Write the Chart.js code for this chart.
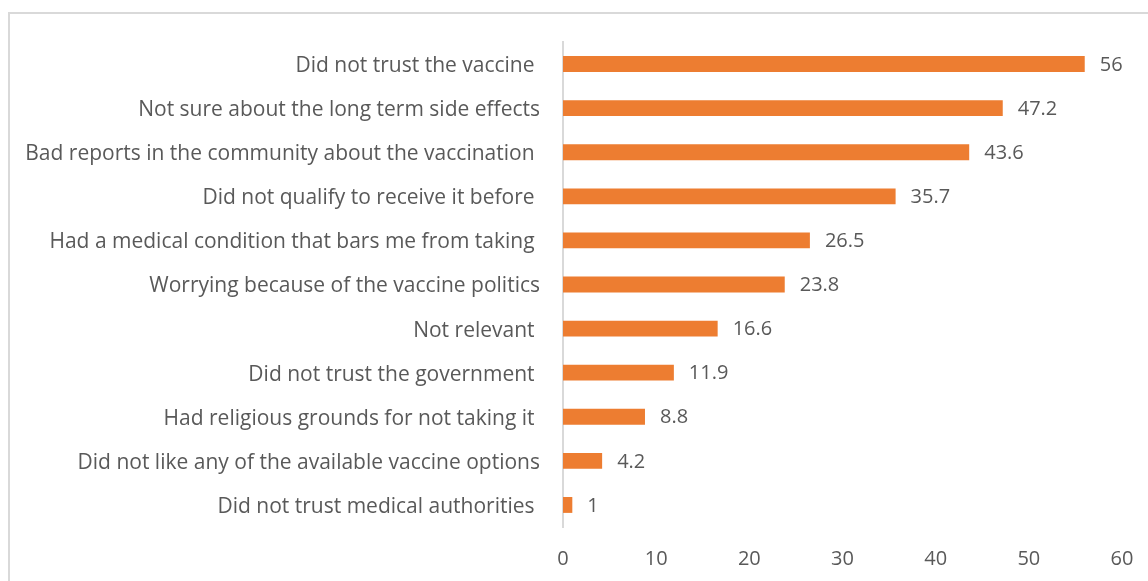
<!DOCTYPE html>
<html>
<head>
<meta charset="utf-8">
<script src="https://cdn.jsdelivr.net/npm/chart.js@4"></script>
<style>
  html, body { margin: 0; padding: 0; background: #fff; overflow: hidden; }
  #wrap { position: relative; width: 1148px; height: 581px; }
  #frame { position: absolute; left: 8px; top: 12px; width: 1200px; height: 620px; border: 2px solid #d9d9d9; box-sizing: border-box; }
  #chart { position: absolute; left: 0; top: 0; }
</style>
</head>
<body>
<div id="wrap">
  <div id="frame"></div>
  <canvas id="chart" width="1148" height="581"></canvas>
</div>
<script>
const reasons = [
    'Did not trust the vaccine ',
    'Not sure about the long term side effects',
    'Bad reports in the community about the vaccination ',
    'Did not qualify to receive it before ',
    'Had a medical condition that bars me from taking ',
    'Worrying because of the vaccine politics',
    'Not relevant ',
    'Did not trust the government ',
    'Had religious grounds for not taking it ',
    'Did not like any of the available vaccine options',
    'Did not trust medical authorities '
]
const percents = [56, 47.2, 43.6, 35.7, 26.5, 23.8, 16.6, 11.9, 8.8, 4.2, 1]
const xTicks = [0, 10, 20, 30, 40, 50, 60]

const textColor = '#595959'
const fontFamily = "'Open Sans', sans-serif"

// values written to the right of each bar
const valueLabels = {
    id: 'valueLabels',
    afterDatasetsDraw(chart) {
        const { ctx } = chart
        const meta = chart.getDatasetMeta(0)
        ctx.save()
        ctx.font = `20px ${fontFamily}`
        ctx.fillStyle = textColor
        ctx.textAlign = 'left'
        ctx.textBaseline = 'middle'
        meta.data.forEach((bar, i) => {
            ctx.fillText(String(percents[i]), bar.x + 15, bar.y + 1)
        })
        ctx.restore()
    }
}

new Chart(
    document.querySelector('#chart'),
    {
        type: 'bar',
        data: {
            labels: reasons,
            datasets: [
                {
                    data: percents,
                    backgroundColor: '#ed7d31',
                    barPercentage: 0.72,
                    categoryPercentage: 0.5
                }
            ]
        },
        options: {
            indexAxis: 'y',
            responsive: false,
            animation: false,
            layout: {
                padding: { left: 0, right: 26, top: 42, bottom: 0 }
            },
            plugins: {
                legend: { display: false },
                tooltip: { enabled: false }
            },
            scales: {
                x: {
                    min: 0,
                    max: 60,
                    afterBuildTicks: (scale) => {
                        scale.ticks = xTicks.map(v => ({ value: v }))
                    },
                    afterFit: (scale) => { scale.height = 54 },
                    grid: { display: false },
                    border: { display: false },
                    ticks: {
                        color: textColor,
                        font: { family: fontFamily, size: 20 },
                        padding: 12
                    }
                },
                y: {
                    afterFit: (scale) => { scale.width = 563 },
                    grid: { display: false },
                    border: { display: true, color: '#d9d9d9', width: 2 },
                    ticks: {
                        color: textColor,
                        font: { family: fontFamily, size: 21 },
                        padding: 15,
                        labelOffset: 2,
                        autoSkip: false
                    }
                }
            }
        },
        plugins: [valueLabels]
    }
)
</script>
</body>
</html>
